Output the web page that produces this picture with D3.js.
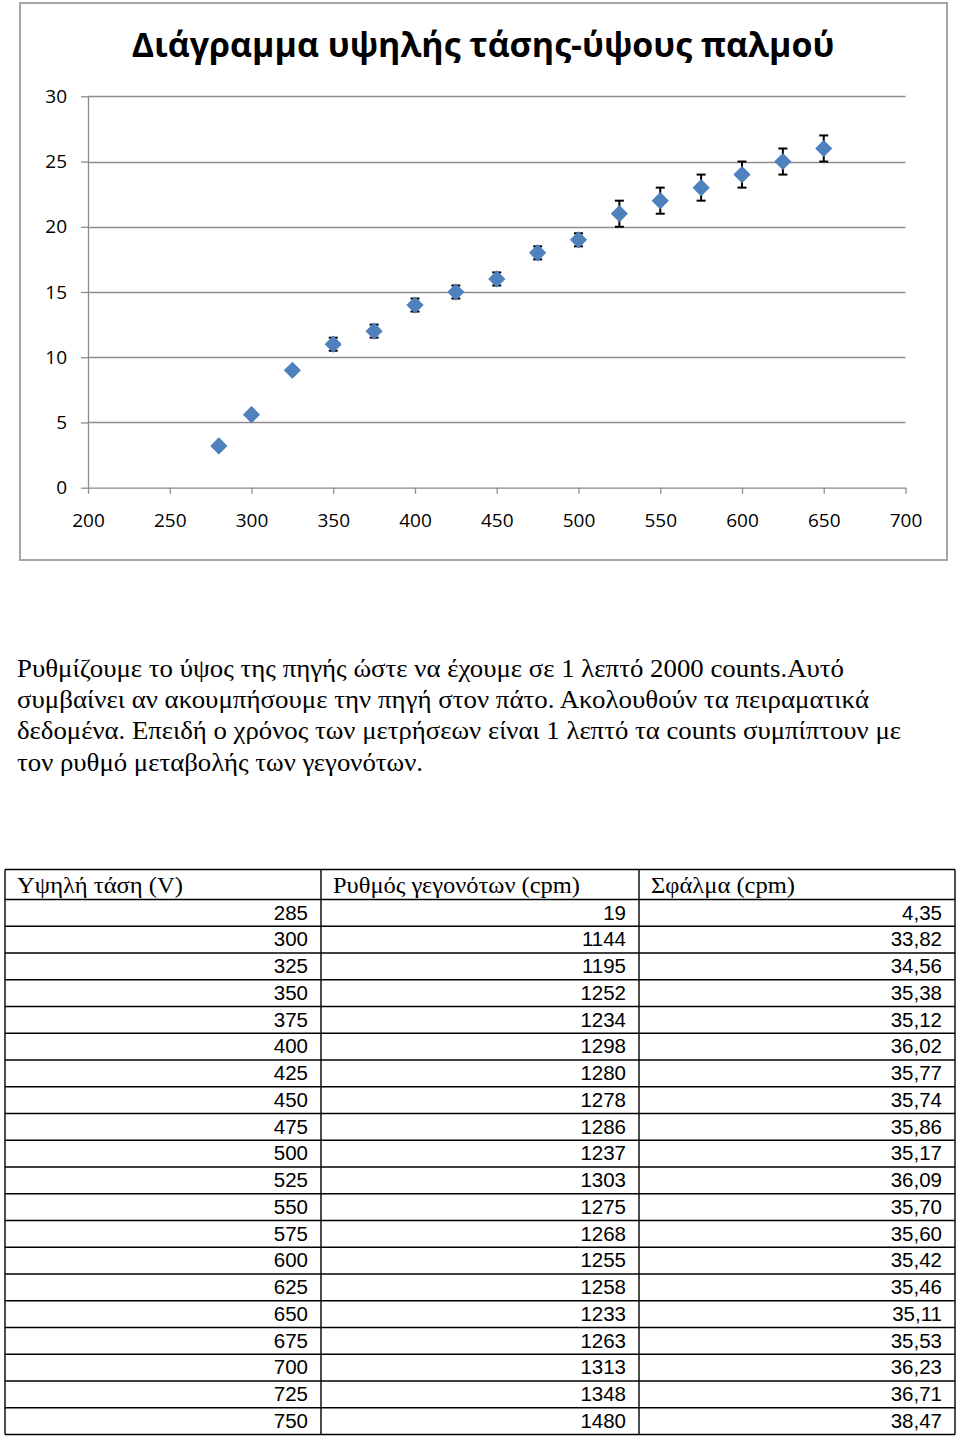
<!DOCTYPE html>
<html>
<head>
<meta charset="utf-8">
<script src="https://cdn.jsdelivr.net/npm/d3@7"></script>
<style>
  html, body { margin: 0; padding: 0; background: #fff; }
  svg { display: block; }
</style>
</head>
<body>
<svg id="page" width="960" height="1436"></svg>
<script>
// ---------- chart data ----------
const chartTitle = "Διάγραμμα υψηλής τάσης-ύψους παλμού";
const voltage = [280, 300, 325, 350, 375, 400, 425, 450, 475, 500, 525, 550, 575, 600, 625, 650];
const pulseHeight = [3.2, 5.6, 9, 11, 12, 14, 15, 16, 18, 19, 21, 22, 23, 24, 25, 26];
const errorBar = [0, 0, 0, 0.5, 0.5, 0.5, 0.5, 0.5, 0.5, 0.5, 1, 1, 1, 1, 1, 1];
const xTicks = [200, 250, 300, 350, 400, 450, 500, 550, 600, 650, 700];
const yTicks = [0, 5, 10, 15, 20, 25, 30];

// ---------- paragraph ----------
const paragraphLines = [
  "Ρυθμίζουμε το ύψος της πηγής ώστε να έχουμε σε 1 λεπτό 2000 counts.Αυτό",
  "συμβαίνει αν ακουμπήσουμε την πηγή στον πάτο. Ακολουθούν τα πειραματικά",
  "δεδομένα. Επειδή ο χρόνος των μετρήσεων είναι 1 λεπτό τα counts συμπίπτουν με",
  "τον ρυθμό μεταβολής των γεγονότων."
];
const paragraphWidths = [827, 852, 884, 406];

// ---------- table data ----------
const tableHeaders = ["Υψηλή τάση (V)", "Ρυθμός γεγονότων (cpm)", "Σφάλμα (cpm)"];
const tableHeaderWidths = [166, 247, 144];
const tableVoltage = ["285","300","325","350","375","400","425","450","475","500","525","550","575","600","625","650","675","700","725","750"];
const tableRate = ["19","1144","1195","1252","1234","1298","1280","1278","1286","1237","1303","1275","1268","1255","1258","1233","1263","1313","1348","1480"];
const tableError = ["4,35","33,82","34,56","35,38","35,12","36,02","35,77","35,74","35,86","35,17","36,09","35,70","35,60","35,42","35,46","35,11","35,53","36,23","36,71","38,47"];

const svg = d3.select("#page");
const sansFont = "'Open Sans', 'Noto Sans', sans-serif";
const gridColor = "#8c8c8c";

// chart frame
svg.append("rect")
  .attr("x", 20).attr("y", 3).attr("width", 927).attr("height", 557)
  .attr("fill", "#fff").attr("stroke", "#a6a6a6").attr("stroke-width", 2);

// title fitted to its width
const title = svg.append("text")
  .attr("x", 483).attr("y", 57)
  .attr("text-anchor", "middle")
  .attr("font-family", sansFont).attr("font-weight", "bold")
  .attr("font-size", 34).attr("fill", "#000")
  .text(chartTitle);
{
  const w = title.node().getComputedTextLength();
  title.attr("font-size", 34 * 703 / w);
}

const x = d3.scaleLinear().domain([200, 700]).range([88, 905.5]);
const y = d3.scaleLinear().domain([0, 30]).range([487.7, 96.3]);

// gridlines
svg.append("g").selectAll("line")
  .data(yTicks.filter(t => t !== 0))
  .join("line")
  .attr("x1", x(200)).attr("x2", x(700))
  .attr("y1", d => Math.round(y(d)) + 0.5).attr("y2", d => Math.round(y(d)) + 0.5)
  .attr("stroke", gridColor).attr("stroke-width", 1.3);

// y axis
const yAxis = svg.append("g")
  .attr("transform", `translate(${x(200)},0)`)
  .call(d3.axisLeft(y).tickValues(yTicks).tickSize(7).tickSizeOuter(0).tickPadding(14));
yAxis.select(".domain").attr("stroke", gridColor).attr("stroke-width", 1.3);
yAxis.selectAll(".tick line").attr("stroke", gridColor).attr("stroke-width", 1.3);
yAxis.selectAll(".tick text").attr("font-family", sansFont).attr("font-size", 19).attr("fill", "#000");

// x axis
const xAxis = svg.append("g")
  .attr("transform", `translate(0,${y(0)})`)
  .call(d3.axisBottom(x).tickValues(xTicks).tickSize(6).tickSizeOuter(0).tickPadding(20));
xAxis.select(".domain").attr("stroke", gridColor).attr("stroke-width", 1.3);
xAxis.selectAll(".tick line").attr("stroke", gridColor).attr("stroke-width", 1.3);
xAxis.selectAll(".tick text").attr("font-family", sansFont).attr("font-size", 19).attr("fill", "#000");

const pts = voltage.map((v, i) => ({ v, h: pulseHeight[i], e: errorBar[i] }));

// error bars
const eb = svg.append("g").selectAll("g")
  .data(pts.filter(d => d.e > 0))
  .join("g")
  .attr("stroke", "#000").attr("stroke-width", 2);
eb.append("line")
  .attr("x1", d => x(d.v)).attr("x2", d => x(d.v))
  .attr("y1", d => y(d.h - d.e)).attr("y2", d => y(d.h + d.e));
eb.append("line")
  .attr("x1", d => x(d.v) - 4.5).attr("x2", d => x(d.v) + 4.5)
  .attr("y1", d => y(d.h - d.e)).attr("y2", d => y(d.h - d.e));
eb.append("line")
  .attr("x1", d => x(d.v) - 4.5).attr("x2", d => x(d.v) + 4.5)
  .attr("y1", d => y(d.h + d.e)).attr("y2", d => y(d.h + d.e));

// diamond markers
const diamond = d3.symbol(d3.symbolSquare, 124);
svg.append("g").selectAll("path")
  .data(pts)
  .join("path")
  .attr("d", diamond)
  .attr("transform", d => `translate(${x(d.v)},${y(d.h)}) rotate(45)`)
  .attr("fill", "#4f81bd").attr("stroke", "#4a7ebb").attr("stroke-width", 1);

// paragraph
const serif = "'Liberation Serif', 'Times New Roman', serif";
svg.append("g").selectAll("text")
  .data(paragraphLines)
  .join("text")
  .attr("x", 17)
  .attr("y", (d, i) => 677 + i * 31.2)
  .attr("font-family", serif).attr("font-size", 25).attr("fill", "#000")
  .attr("textLength", (d, i) => paragraphWidths[i])
  .attr("lengthAdjust", "spacingAndGlyphs")
  .text(d => d);

// table
const colX = [5, 321, 639, 955];
const headTop = 869.5, headH = 30, rowH = 26.75;
const nRows = tableVoltage.length;
const tableBottom = headTop + headH + nRows * rowH;
const tg = svg.append("g");
const hLines = [headTop, headTop + headH].concat(d3.range(1, nRows + 1).map(i => headTop + headH + i * rowH));
tg.selectAll("line.h").data(hLines).join("line").attr("class", "h")
  .attr("x1", colX[0]).attr("x2", colX[3])
  .attr("y1", d => d).attr("y2", d => d)
  .attr("stroke", "#000").attr("stroke-width", 1.4);
tg.selectAll("line.v").data(colX).join("line").attr("class", "v")
  .attr("x1", d => d).attr("x2", d => d)
  .attr("y1", headTop).attr("y2", Math.min(tableBottom, 1435))
  .attr("stroke", "#000").attr("stroke-width", 1.4);
// header
tg.selectAll("text.hd").data(tableHeaders).join("text").attr("class", "hd")
  .attr("x", (d, i) => colX[i] + 12)
  .attr("y", headTop + 23)
  .attr("font-family", serif).attr("font-size", 24).attr("fill", "#000")
  .attr("textLength", (d, i) => tableHeaderWidths[i])
  .attr("lengthAdjust", "spacingAndGlyphs")
  .text(d => d);
// cells
const cols = [tableVoltage, tableRate, tableError];
cols.forEach((col, c) => {
  tg.selectAll(`text.c${c}`).data(col).join("text").attr("class", `c${c}`)
    .attr("x", colX[c + 1] - 13)
    .attr("y", (d, i) => headTop + headH + i * rowH + 20)
    .attr("text-anchor", "end")
    .attr("font-family", "'Liberation Sans', Arial, sans-serif")
    .attr("font-size", 20.5).attr("fill", "#000")
    .text(d => d);
});
</script>
</body>
</html>
